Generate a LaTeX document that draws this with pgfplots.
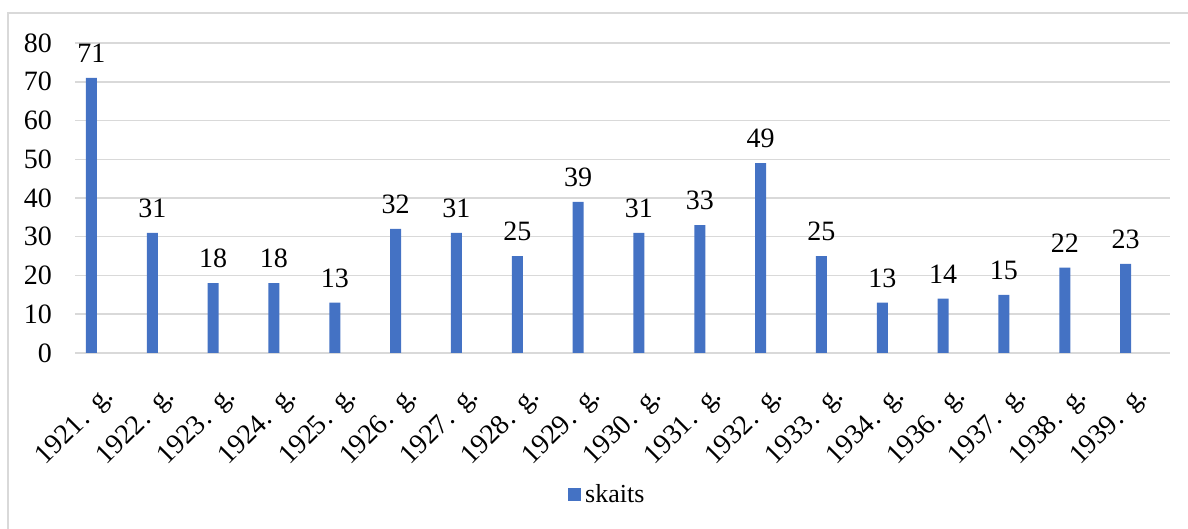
\documentclass[border=0pt]{standalone}
\usepackage{fontspec}
\setmainfont{Liberation Serif}
\usepackage{pgfplots}
\pgfplotsset{compat=1.18}
\definecolor{barblue}{HTML}{4472C4}
\definecolor{gridgray}{HTML}{D9D9D9}
\newcommand{\cf}{\rmfamily\fontsize{14}{16}\selectfont}
\newcommand{\lf}{\rmfamily\fontsize{13}{15}\selectfont}
\newcommand{\yl}[1]{#1\kern0.05em.\ \,g.}
\begin{document}
\begin{tikzpicture}[x=1pt,y=1pt, font=\cf]
\useasboundingbox (0,0) rectangle (594,264.5);
\draw[gridgray, line width=0.75pt] (4,-5) -- (4,258) -- (600,258);
\begin{axis}[
  at={(37.5pt,88pt)}, anchor=south west,
  width=547.5pt, height=155pt, scale only axis,
  xmin=-0.5, xmax=17.5, ymin=0, ymax=80,
  ytick={0,10,...,80},
  xtick={0,...,17},
  xticklabels={\yl{1921},\yl{1922},\yl{1923},\yl{1924},\yl{1925},\yl{1926},\yl{1927},\yl{1928},\yl{1929},\yl{1930},\yl{1931},\yl{1932},\yl{1933},\yl{1934},\yl{1936},\yl{1937},\yl{1938},\yl{1939}},
  ymajorgrids, grid style={gridgray, line width=0.75pt},
  axis line style={draw=none},
  major tick length=0pt,
  /pgf/number format/assume math mode=true,
  tick label style={font=\cf},
  yticklabel style={anchor=east, xshift=-8pt},
  xticklabel style={xshift=-2pt, yshift=-10.5pt, rotate=45, anchor=north east},
  ybar, bar width=5.5pt, bar shift=-7pt,
  nodes near coords,
  every node near coord/.append style={font=\cf, yshift=4pt},
  legend style={at={(0.487,-0.458)}, anchor=center, draw=none, font=\lf},
  legend image code/.code={\fill[barblue] (0pt,-3pt) rectangle (6.5pt,3.5pt);},
]
\addplot[fill=barblue, draw=none] coordinates {
(0,71) (1,31) (2,18) (3,18) (4,13) (5,32) (6,31) (7,25) (8,39)
(9,31) (10,33) (11,49) (12,25) (13,13) (14,14) (15,15) (16,22) (17,23)};
\addlegendentry{skaits}
\end{axis}
\end{tikzpicture}
\end{document}
